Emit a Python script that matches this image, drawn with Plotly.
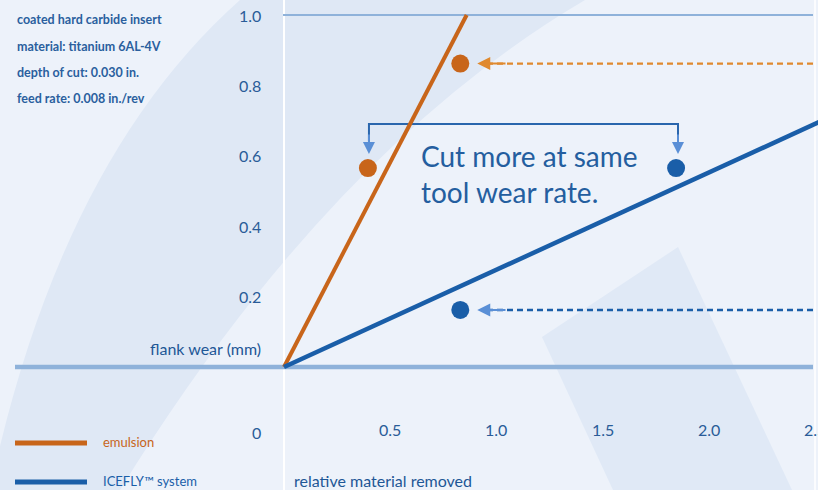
import plotly.graph_objects as go

W, H = 818, 490

# ---- data ----
emulsion_x = [0.0, 0.86]
emulsion_y = [0.0, 1.0]
icefly_x = [0.0, 2.56]
icefly_y = [0.0, 0.707]

emulsion_pts_x = [0.83, 0.395]
emulsion_pts_y = [0.862, 0.565]
icefly_pts_x = [1.846, 0.83]
icefly_pts_y = [0.565, 0.162]

y_tick_vals = [0.2, 0.4, 0.6, 0.8, 1.0]
y_tick_text = ["0.2", "0.4", "0.6", "0.8", "1.0"]
x_tick_vals = [0.5, 1.0, 1.5, 2.0, 2.5]
x_tick_text = ["0.5", "1.0", "1.5", "2.0", "2.5"]

info_lines = ["tool: CNMG 432 PVD-TiN", "coated hard carbide insert",
              "material: titanium 6AL-4V", "depth of cut: 0.030 in.",
              "feed rate: 0.008 in./rev"]

# ---- scale (pixel geometry) ----
X0_PX, X_PER = 284.0, 212.4
Y0_PX, Y_PER = 367.0, 352.0
x_range = [(0 - X0_PX) / X_PER, (W - X0_PX) / X_PER]
y_range = [-(H - Y0_PX) / Y_PER, Y0_PX / Y_PER]

def px_x(v):
    return (v - X0_PX) / X_PER

def px_y(v):
    return (Y0_PX - v) / Y_PER

ORANGE = "#c8651a"
ORANGE_L = "#e0892e"
BLUE = "#1a5ea8"
BLUE_L = "#5a8fd6"
TXT = "#2a5c98"
AXLINE = "#8fb2da"
FONT = "Lato"

fig = go.Figure()

def P(x, y):
    return f"{x / W:.4f},{1 - y / H:.4f}"

shapes = [
    dict(type="path", xref="paper", yref="paper", layer="below", line=dict(width=0),
         fillcolor="#dfe8f5",
         path=f"M {P(-10, 490)} Q {P(60, 160)} {P(240, 0)} L {P(585, 0)} "
              f"Q {P(330, 150)} {P(120, 490)} Z"),
    dict(type="path", xref="paper", yref="paper", layer="below", line=dict(width=0),
         fillcolor="#e0e9f6",
         path=f"M {P(542, 337)} L {P(678, 247)} L {P(792, 490)} L {P(613, 490)} Z"),
    dict(type="line", xref="x", yref="paper", x0=0, x1=0, y0=0, y1=1,
         line=dict(color="#ffffff", width=2), layer="below"),
    dict(type="line", xref="paper", yref="paper", x0=815 / W, x1=815 / W, y0=0, y1=1,
         line=dict(color="#ffffff", width=1.5), layer="below"),
    dict(type="line", xref="x", yref="y", x0=px_x(283), x1=px_x(813), y0=1.0, y1=1.0,
         line=dict(color=AXLINE, width=2), layer="below"),
    dict(type="line", xref="x", yref="y", x0=px_x(15), x1=px_x(813), y0=0, y1=0,
         line=dict(color=AXLINE, width=4.5), layer="below"),
]

fig.add_trace(go.Scatter(x=[px_x(813), 0.93], y=[0.862, 0.862], mode="lines",
                         line=dict(color=ORANGE_L, width=2.4, dash="6px,4px"),
                         showlegend=False, hoverinfo="skip"))
fig.add_trace(go.Scatter(x=[px_x(813), 0.93], y=[0.162, 0.162], mode="lines",
                         line=dict(color=BLUE, width=2.4, dash="6px,4px"),
                         showlegend=False, hoverinfo="skip"))

bx0, bx1 = 0.40, 1.855
fig.add_trace(go.Scatter(x=[bx0, bx0, bx1, bx1], y=[0.64, 0.69, 0.69, 0.64], mode="lines",
                         line=dict(color="#2a66ad", width=2),
                         showlegend=False, hoverinfo="skip"))

fig.add_trace(go.Scatter(x=emulsion_x, y=emulsion_y, mode="lines",
                         line=dict(color=ORANGE, width=4), name="emulsion",
                         showlegend=False))
fig.add_trace(go.Scatter(x=icefly_x, y=icefly_y, mode="lines",
                         line=dict(color=BLUE, width=4.5), name="ICEFLY™ system",
                         showlegend=False))

fig.add_trace(go.Scatter(x=emulsion_pts_x, y=emulsion_pts_y, mode="markers",
                         marker=dict(color=ORANGE, size=18), showlegend=False))
fig.add_trace(go.Scatter(x=icefly_pts_x, y=icefly_pts_y, mode="markers",
                         marker=dict(color=BLUE, size=18), showlegend=False))

fig.add_trace(go.Scatter(x=[px_x(15), px_x(87)], y=[px_y(443), px_y(443)], mode="lines",
                         line=dict(color=ORANGE, width=5), showlegend=False))
fig.add_trace(go.Scatter(x=[px_x(15), px_x(87)], y=[px_y(482), px_y(482)], mode="lines",
                         line=dict(color=BLUE, width=5), showlegend=False))

ann = []
for (x, y, ax, col) in [(0.91, 0.862, 1.05, ORANGE_L), (0.91, 0.162, 1.05, BLUE_L)]:
    ann.append(dict(x=x, y=y, ax=ax, ay=y, xref="x", yref="y", axref="x", ayref="y",
                    text="", showarrow=True, arrowhead=2, arrowsize=1.3, arrowwidth=2,
                    arrowcolor=col))
for bx in [bx0, bx1]:
    ann.append(dict(x=bx, y=0.605, ax=bx, ay=0.665, xref="x", yref="y", axref="x", ayref="y",
                    text="", showarrow=True, arrowhead=2, arrowsize=1.2, arrowwidth=2,
                    arrowcolor=BLUE_L))

for v, t in zip(y_tick_vals, y_tick_text):
    ann.append(dict(x=px_x(263), y=v, xref="x", yref="y", text=t, showarrow=False,
                    xanchor="right", yanchor="middle",
                    font=dict(family=FONT, size=16, color=TXT)))
ann.append(dict(x=px_x(263), y=px_y(432), xref="x", yref="y", text="0", showarrow=False,
                xanchor="right", yanchor="middle", font=dict(family=FONT, size=16, color=TXT)))
for v, t in zip(x_tick_vals, x_tick_text):
    ann.append(dict(x=v, y=px_y(429), xref="x", yref="y", text=t, showarrow=False,
                    xanchor="center", yanchor="middle",
                    font=dict(family=FONT, size=16, color=TXT)))

ann.append(dict(x=px_x(263), y=px_y(348), xref="x", yref="y", text="flank wear (mm)",
                showarrow=False, xanchor="right", yanchor="middle",
                font=dict(family=FONT, size=16, color="#1e5796")))
ann.append(dict(x=px_x(292), y=px_y(480), xref="x", yref="y", text="relative material removed",
                showarrow=False, xanchor="left", yanchor="middle",
                font=dict(family=FONT, size=16, color="#1e5796")))

for i, line in enumerate(info_lines):
    py = -7 + 26.5 * i
    ann.append(dict(x=15 / W, y=1 - py / H, xref="paper", yref="paper", text=line,
                    showarrow=False, xanchor="left", yanchor="middle",
                    font=dict(family=FONT, size=12.5, color="#2a5f9e", weight="bold")))

ann.append(dict(x=px_x(101), y=px_y(442), xref="x", yref="y", text="emulsion",
                showarrow=False, xanchor="left", yanchor="middle",
                font=dict(family=FONT, size=13, color=ORANGE)))
ann.append(dict(x=px_x(101), y=px_y(481), xref="x", yref="y", text="ICEFLY™ system",
                showarrow=False, xanchor="left", yanchor="middle",
                font=dict(family=FONT, size=13, color=BLUE)))

ann.append(dict(x=px_x(419), y=px_y(174), xref="x", yref="y",
                text="Cut more at same<br>tool wear rate.", showarrow=False,
                xanchor="left", yanchor="middle", align="left",
                font=dict(family=FONT, size=28, color="#245e9f")))

fig.update_layout(
    width=W, height=H,
    margin=dict(l=0, r=0, t=0, b=0),
    paper_bgcolor="#edf2fa", plot_bgcolor="rgba(0,0,0,0)",
    xaxis=dict(range=x_range, visible=False, fixedrange=True),
    yaxis=dict(range=y_range, visible=False, fixedrange=True),
    shapes=shapes, annotations=ann, showlegend=False,
)

fig.write_html("out.html", config={"displayModeBar": False},
               post_script="document.body.style.margin='0';document.body.style.overflow='hidden';")
